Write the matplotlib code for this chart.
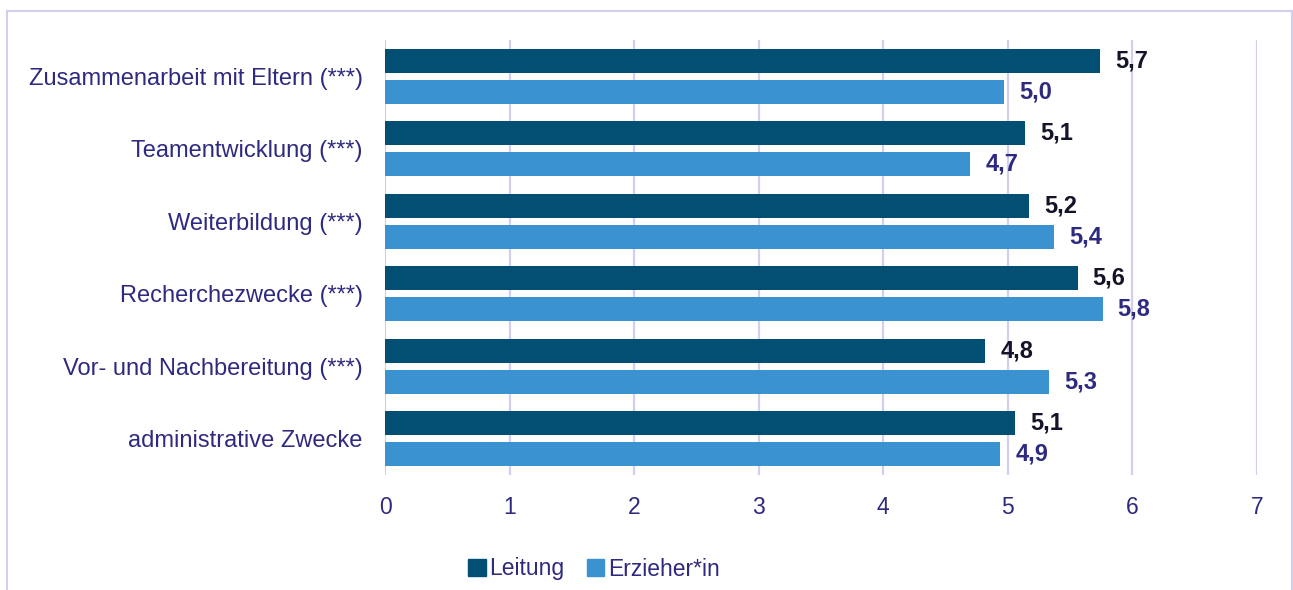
import numpy as np
import matplotlib.pyplot as plt
from matplotlib.lines import Line2D
from matplotlib.patches import Patch

plt.rcParams['font.family'] = ['Liberation Sans', 'DejaVu Sans']

categories = ['Zusammenarbeit mit Eltern (***)', 'Teamentwicklung (***)',
              'Weiterbildung (***)', 'Recherchezwecke (***)',
              'Vor- und Nachbereitung (***)', 'administrative Zwecke']
leitung = [5.74, 5.14, 5.17, 5.56, 4.82, 5.06]
erzieher = [4.97, 4.70, 5.37, 5.76, 5.33, 4.94]
series_names = ['Leitung', 'Erzieher*in']

c_leit = '#034F73'
c_erz = '#3A93D0'
c_text = '#2E2A80'
c_grid = '#D2CEEE'

fig = plt.figure(figsize=(12.93, 5.90), dpi=100)
ax = fig.add_axes([385/1293, 115/590, 872/1293, 435/590])

y = np.arange(len(categories))
off = 0.214
h = 0.33
ax.barh(y - off, leitung, height=h, color=c_leit, zorder=3)
ax.barh(y + off, erzieher, height=h, color=c_erz, zorder=3)

for yi, v in zip(y, leitung):
    ax.text(v + 0.12, yi - off, f'{v:.1f}'.replace('.', ','), va='center', ha='left',
            fontsize=17, fontweight='bold', color='#141428')
for yi, v in zip(y, erzieher):
    ax.text(v + 0.12, yi + off, f'{v:.1f}'.replace('.', ','), va='center', ha='left',
            fontsize=17, fontweight='bold', color=c_text)

ax.set_xlim(0, 7)
ax.set_ylim(len(categories) - 0.5, -0.5)
ax.set_xticks(range(8))
ax.set_yticks(y)
ax.set_yticklabels(categories)
ax.tick_params(axis='both', length=0, labelsize=16.5, colors=c_text)
ax.tick_params(axis='y', pad=16, labelsize=17)
ax.tick_params(axis='x', pad=15)
ax.grid(axis='x', color=c_grid, linewidth=1.6, zorder=0)
for s in ['top', 'right', 'bottom', 'left']:
    ax.spines[s].set_visible(False)

handles = [Patch(color=c_leit), Patch(color=c_erz)]
fig.legend(handles, series_names, loc='center', bbox_to_anchor=(594/1293, 1 - 569/590),
           ncol=2, frameon=False, fontsize=16.5, handlelength=0.75, handleheight=0.75,
           handletextpad=0.15, columnspacing=1.0, labelcolor=c_text)

# outer frame
fig.add_artist(Line2D([7/1293, 7/1293], [0, 1 - 11/590], transform=fig.transFigure, color=c_grid, lw=1.5))
fig.add_artist(Line2D([7/1293, 1292/1293], [1 - 11/590, 1 - 11/590], transform=fig.transFigure, color=c_grid, lw=1.5))
fig.add_artist(Line2D([1292/1293, 1292/1293], [0, 1 - 11/590], transform=fig.transFigure, color=c_grid, lw=1.5))

fig.savefig('out.png', dpi=100)
